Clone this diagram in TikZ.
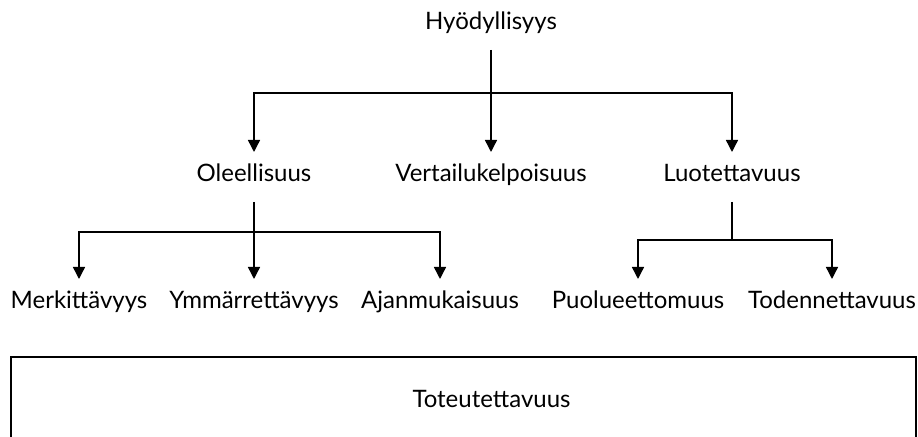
\documentclass[tikz,border=0pt]{standalone}
\usepackage{fontspec}
\setmainfont{Lato}
\usetikzlibrary{arrows.meta}

\begin{document}
\begin{tikzpicture}[
	x=0.5pt, y=-0.5pt,
	>={Triangle[length=6pt, width=6pt]},
	line width=0.7pt,
	term/.style={inner sep=0pt, outer ysep=7pt, text height=8pt, text depth=3pt, anchor=base, font=\fontsize{12}{14}\selectfont},
	frame/.style={draw, line width=1pt, inner sep=0pt, minimum width=452.5pt, minimum height=42pt, font=\fontsize{12}{14}\selectfont}
]
\useasboundingbox (0,0) rectangle (918,437);

\node[term] (hyo) at (491,30) {Hyödyllisyys};
\node[term] (ole) at (254,182) {Oleellisuus};
\node[term] (ver) at (491,182) {Vertailukelpoisuus};
\node[term] (luo) at (732,182) {Luotettavuus};
\node[term] (mer) at (79,309) {Merkittävyys};
\node[term] (ymm) at (254,309) {Ymmärrettävyys};
\node[term] (aja) at (440,309) {Ajanmukaisuus};
\node[term] (puo) at (638,309) {Puolueettomuus};
\node[term] (tod) at (832,309) {Todennettavuus};
\node[frame] (tot) at (463.5,399) {\hspace*{28pt}Toteutettavuus};

\coordinate (b1) at (491,93);
\coordinate (b2) at (254,232);
\coordinate (b3) at (732,240);

\draw[->] (hyo.south) -- (ver.north);
\draw[->] (b1) -| (ole.north);
\draw[->] (b1) -| (luo.north);
\draw[->] (ole.south) -- (ymm.north);
\draw[->] (b2) -| (mer.north);
\draw[->] (b2) -| (aja.north);
\draw (luo.south) -- (b3);
\draw[->] (b3) -| (puo.north);
\draw[->] (b3) -| (tod.north);
\end{tikzpicture}
\end{document}
